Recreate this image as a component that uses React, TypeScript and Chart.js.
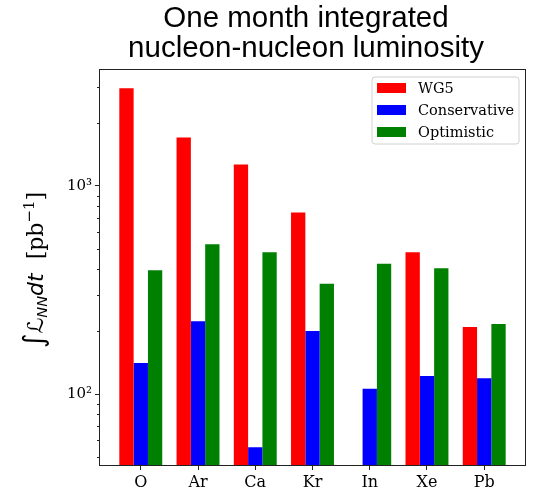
import { useEffect, useRef } from 'react';
import { Chart, registerables } from 'chart.js';

Chart.register(...registerables);

const categories = ['O', 'Ar', 'Ca', 'Kr', 'In', 'Xe', 'Pb'];
const wg5: (number | null)[] = [2950, 1710, 1270, 745, null, 480, 210];
const conservative = [141, 224, 55.5, 201, 106, 122, 119];
const optimistic = [394, 525, 480, 339, 423, 402, 217];
const seriesNames = ['WG5', 'Conservative', 'Optimistic'];
const seriesColors = ['#ff0000', '#0000ff', '#008000'];
const titleLines = ['One month integrated', 'nucleon-nucleon luminosity'];
const yMajorTicks = [100, 1000];
const yMajorLabels = ['10²', '10³'];
const yMinorTicks = [50, 60, 70, 80, 90, 200, 300, 400, 500, 600, 700, 800, 900, 2000, 3000];

const toPoints = (arr: (number | null)[]) => arr.map((v, i) => ({ x: i, y: v }));

const decorPlugin = {
  id: 'decor',
  afterDraw(chart: any) {
    const { ctx, chartArea } = chart;
    const { left, right, top, bottom } = chartArea;
    const ys = chart.scales.y;
    ctx.save();
    // frame
    ctx.strokeStyle = '#222';
    ctx.lineWidth = 1;
    ctx.strokeRect(Math.round(left) - 0.5, Math.round(top) - 0.5, Math.round(right - left) + 1, Math.round(bottom - top) + 1);
    // minor ticks
    ctx.beginPath();
    for (const v of yMinorTicks) {
      const y = Math.round(ys.getPixelForValue(v)) + 0.5;
      ctx.moveTo(left - 3, y);
      ctx.lineTo(left, y);
    }
    ctx.stroke();
    // title
    ctx.fillStyle = '#000';
    ctx.font = '29.5px "Liberation Sans", Arial, sans-serif';
    ctx.textAlign = 'center';
    ctx.textBaseline = 'alphabetic';
    const cx = 306;
    ctx.fillText(titleLines[0], cx, 27);
    ctx.fillText(titleLines[1], cx, 57);

    // legend
    const lx = 372, ly = 77, lw = 147, lh = 67;
    ctx.beginPath();
    const r = 3;
    ctx.moveTo(lx + r, ly);
    ctx.lineTo(lx + lw - r, ly);
    ctx.quadraticCurveTo(lx + lw, ly, lx + lw, ly + r);
    ctx.lineTo(lx + lw, ly + lh - r);
    ctx.quadraticCurveTo(lx + lw, ly + lh, lx + lw - r, ly + lh);
    ctx.lineTo(lx + r, ly + lh);
    ctx.quadraticCurveTo(lx, ly + lh, lx, ly + lh - r);
    ctx.lineTo(lx, ly + r);
    ctx.quadraticCurveTo(lx, ly, lx + r, ly);
    ctx.closePath();
    ctx.fillStyle = 'rgba(255,255,255,0.8)';
    ctx.fill();
    ctx.strokeStyle = '#d0d0d0';
    ctx.stroke();
    ctx.font = '14.5px "DejaVu Serif", serif';
    ctx.textAlign = 'left';
    ctx.textBaseline = 'middle';
    seriesNames.forEach((name, i) => {
      const ry = 88 + i * 22;
      ctx.fillStyle = seriesColors[i];
      ctx.fillRect(377, ry - 5, 29, 10);
      ctx.fillStyle = '#000';
      ctx.fillText(name, 418, ry + 1);
    });

    // y-axis label (rotated)
    ctx.translate(43, 270);
    ctx.rotate(-Math.PI / 2);
    ctx.textAlign = 'left';
    ctx.textBaseline = 'alphabetic';
    const parts: [string, string, number][] = [
      ['∫', '28px "DejaVu Sans"', 0],
      ['ℒ', 'italic 22px "DejaVu Sans"', 0],
      ['NN', 'italic 14.5px "DejaVu Sans"', 4],
      ['dt', 'italic 22px "DejaVu Sans"', 0],
      ['  [pb', '22px "DejaVu Serif"', 0],
      ['−1', '15px "DejaVu Serif"', -9],
      [']', '22px "DejaVu Serif"', 0],
    ];
    let total = 0;
    for (const [t, f] of parts) {
      ctx.font = f;
      total += ctx.measureText(t).width;
    }
    let x = -total / 2;
    for (const [t, f, dy] of parts) {
      ctx.font = f;
      ctx.fillText(t, x, dy);
      x += ctx.measureText(t).width;
    }
    ctx.restore();
  },
};

export default function App() {
  const ref = useRef<HTMLCanvasElement | null>(null);
  useEffect(() => {
    if (!ref.current) return;
    const chart = new Chart(ref.current, {
      type: 'bar',
      data: {
        datasets: [
          { label: seriesNames[0], data: toPoints(wg5) as any, backgroundColor: seriesColors[0], borderWidth: 0 },
          { label: seriesNames[1], data: toPoints(conservative) as any, backgroundColor: seriesColors[1], borderWidth: 0 },
          { label: seriesNames[2], data: toPoints(optimistic) as any, backgroundColor: seriesColors[2], borderWidth: 0 },
        ],
      },
      options: {
        responsive: false,
        animation: false,
        devicePixelRatio: 1,
        layout: { padding: { top: 70, right: 9, left: 0, bottom: 0 } },
        datasets: { bar: { categoryPercentage: 0.75, barPercentage: 1.0 } },
        plugins: { legend: { display: false }, tooltip: { enabled: false }, title: { display: false } },
        scales: {
          x: {
            type: 'linear',
            offset: false,
            min: -0.7125,
            max: 6.7125,
            afterBuildTicks: (scale: any) => {
              scale.ticks = categories.map((_, i) => ({ value: i }));
            },
            afterFit: (scale: any) => {
              scale.height = 25;
            },
            ticks: {
              autoSkip: false,
              maxRotation: 0,
              padding: 3,
              color: '#000',
              font: { family: '"DejaVu Serif", serif', size: 16 },
              callback: (v: any) => categories[Math.round(Number(v))] ?? '',
            },
            grid: { display: true, drawOnChartArea: false, drawTicks: true, tickLength: 5, tickColor: '#222', offset: false },
            border: { display: false },
          },
          y: {
            type: 'logarithmic',
            min: 45.6,
            max: 3610,
            afterBuildTicks: (scale: any) => {
              scale.ticks = yMajorTicks.map((v) => ({ value: v }));
            },
            afterFit: (scale: any) => {
              scale.width = 100;
            },
            ticks: {
              autoSkip: false,
              padding: 3,
              color: '#000',
              font: { family: '"DejaVu Serif", serif', size: 15 },
              callback: (v: any) => {
                const idx = yMajorTicks.indexOf(Number(v));
                return idx >= 0 ? yMajorLabels[idx] : '';
              },
            },
            grid: { display: true, drawOnChartArea: false, drawTicks: true, tickLength: 5, tickColor: '#222' },
            border: { display: false },
          },
        },
      } as any,
      plugins: [decorPlugin],
    });
    return () => chart.destroy();
  }, []);
  return (
    <div style={{ position: 'absolute', left: 0, top: 0, width: 534, height: 490, background: '#fff' }}>
      <canvas ref={ref} width={534} height={490} style={{ display: 'block' }} />
    </div>
  );
}
